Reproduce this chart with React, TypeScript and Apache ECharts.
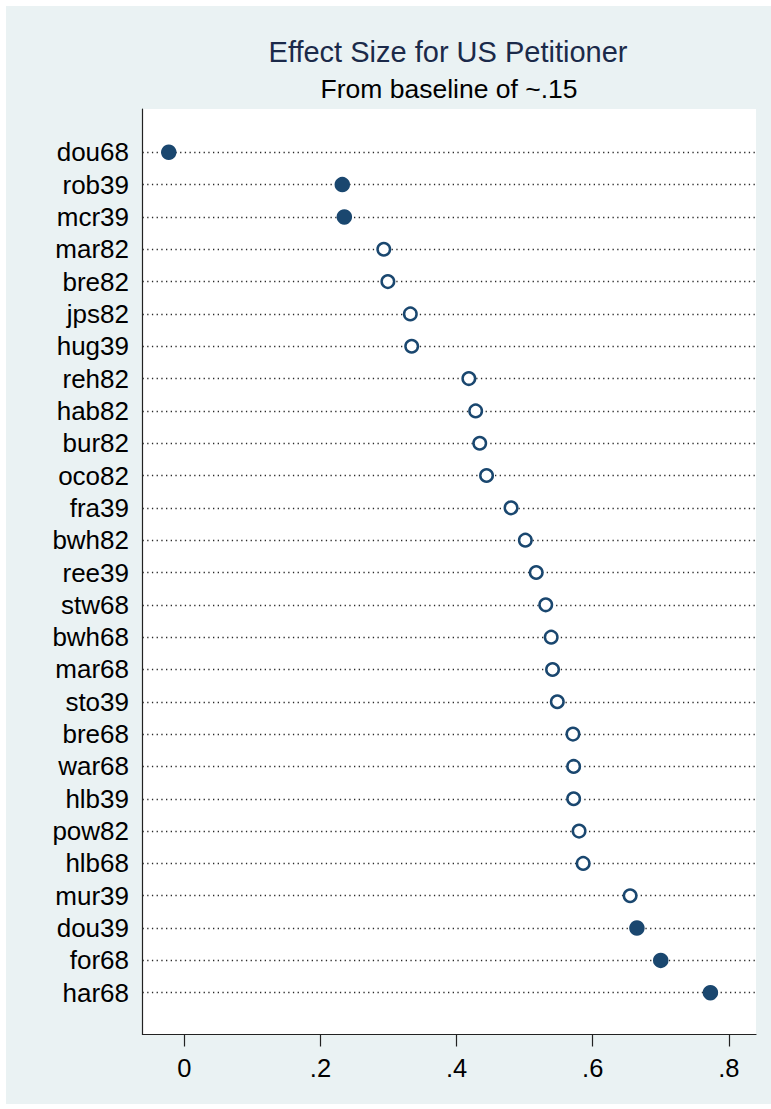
import React, { useEffect, useRef } from "react";
import * as echarts from "echarts";

const names = [
  "dou68", "rob39", "mcr39", "mar82", "bre82", "jps82", "hug39", "reh82", "hab82",
  "bur82", "oco82", "fra39", "bwh82", "ree39", "stw68", "bwh68", "mar68", "sto39",
  "bre68", "war68", "hlb39", "pow82", "hlb68", "mur39", "dou39", "for68", "har68",
];
const effects = [
  -0.023, 0.232, 0.235, 0.293, 0.299, 0.332, 0.334, 0.418, 0.428,
  0.434, 0.444, 0.48, 0.501, 0.517, 0.531, 0.539, 0.541, 0.548,
  0.571, 0.572, 0.572, 0.58, 0.586, 0.655, 0.665, 0.7, 0.773,
];
const significant = [
  true, true, true, false, false, false, false, false, false,
  false, false, false, false, false, false, false, false, false,
  false, false, false, false, false, false, true, true, true,
];
const xTicks = [0, 0.2, 0.4, 0.6, 0.8];
const titleText = "Effect Size for US Petitioner";
const subtitleText = "From baseline of ~.15";

const FONT = "'Liberation Sans', Arial, Helvetica, sans-serif";
const NAVY = "#1a476f";
const X_MIN = -0.0616;
const X_MAX = 0.84;

export default function App() {
  const ref = useRef<HTMLDivElement>(null);
  useEffect(() => {
    if (!ref.current) return;
    const chart = echarts.init(ref.current, null, { renderer: "svg" });
    const filled = names
      .map((n, i) => (significant[i] ? [effects[i], n] : null))
      .filter((d) => d !== null);
    const hollow = names
      .map((n, i) => (!significant[i] ? [effects[i], n] : null))
      .filter((d) => d !== null);
    const plotLeft = 142.5;
    const plotRight = 771 - 756;
    chart.setOption({
      animation: false,
      backgroundColor: "#ffffff",
      textStyle: { fontFamily: FONT },
      graphic: [
        {
          type: "rect",
          z: -10,
          silent: true,
          shape: { x: 6, y: 6, width: 765, height: 1098 },
          style: { fill: "#eaf2f3" },
        },
        {
          type: "text",
          x: 448,
          y: 52,
          style: {
            text: titleText,
            fill: "#1b2a4a",
            font: `29px ${FONT}`,
            textAlign: "center",
            textVerticalAlign: "middle",
          },
        },
        {
          type: "text",
          x: 449,
          y: 89,
          style: {
            text: subtitleText,
            fill: "#000000",
            font: `26.5px ${FONT}`,
            textAlign: "center",
            textVerticalAlign: "middle",
          },
        },
      ],
      grid: [
        {
          left: plotLeft,
          right: plotRight,
          top: 109,
          bottom: 1109 - 1034.5,
          show: true,
          backgroundColor: "#ffffff",
          borderWidth: 0,
          z: 0,
        },
        {
          left: plotLeft,
          right: plotRight,
          top: 152.3,
          bottom: 1109 - 992.7,
          show: false,
        },
      ],
      xAxis: [
        {
          gridIndex: 0,
          type: "value",
          min: X_MIN,
          max: X_MAX,
          axisLine: { show: true, onZero: false, lineStyle: { color: "#222", width: 1.2 } },
          axisTick: {
            show: true,
            length: 12,
            customValues: xTicks,
            lineStyle: { color: "#222", width: 1.2 },
          },
          axisLabel: {
            show: true,
            customValues: xTicks,
            margin: 20,
            fontSize: 25.5,
            color: "#000",
            fontFamily: FONT,
            formatter: (v: number) => (Math.abs(v) < 1e-9 ? "0" : v.toFixed(1).replace(/^0/, "")),
          },
          splitLine: { show: false },
        },
        {
          gridIndex: 1,
          type: "value",
          min: X_MIN,
          max: X_MAX,
          show: false,
        },
      ],
      yAxis: [
        {
          gridIndex: 0,
          type: "value",
          min: 0,
          max: 1,
          axisLine: { show: true, onZero: false, lineStyle: { color: "#222", width: 1.2 } },
          axisTick: { show: false },
          axisLabel: { show: false },
          splitLine: { show: false },
        },
        {
          gridIndex: 1,
          type: "category",
          data: names,
          inverse: true,
          boundaryGap: false,
          axisLine: { show: false },
          axisTick: { show: false },
          axisLabel: {
            show: true,
            interval: 0,
            margin: 13.5,
            fontSize: 26,
            color: "#000",
            fontFamily: FONT,
          },
          splitLine: {
            show: true,
            interval: 0,
            lineStyle: { color: "#2a2a2a", width: 1.3, type: [1.3, 3.4] },
          },
        },
      ],
      series: [
        {
          type: "scatter",
          xAxisIndex: 1,
          yAxisIndex: 1,
          data: hollow,
          symbol: "circle",
          symbolSize: 12.5,
          itemStyle: { color: "#ffffff", borderColor: NAVY, borderWidth: 2.5, opacity: 1 },
          z: 5,
        },
        {
          type: "scatter",
          xAxisIndex: 1,
          yAxisIndex: 1,
          data: filled,
          symbol: "circle",
          symbolSize: 15.5,
          itemStyle: { color: NAVY, opacity: 1 },
          z: 6,
        },
      ],
    });
    return () => chart.dispose();
  }, []);
  return (
    <div
      ref={ref}
      style={{ position: "absolute", left: 0, top: 0, width: 771, height: 1109 }}
    />
  );
}
